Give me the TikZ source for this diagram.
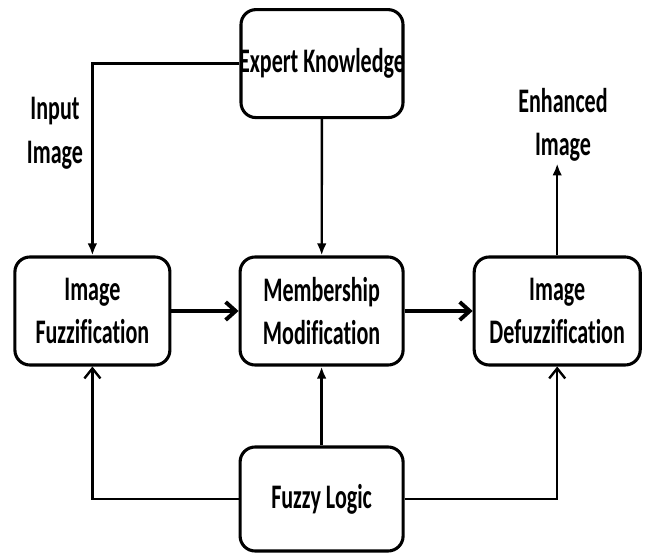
\documentclass[tikz,border=0pt]{standalone}
\usepackage{fontspec}
\setmainfont{Carlito}[FakeStretch=0.64, Ligatures=NoCommon]
\usetikzlibrary{positioning,arrows.meta}

\tikzset{
  block/.style={draw, rounded corners=0.375cm, line width=2.2pt, minimum height=2.7cm,
    align=center, font=\fontsize{24.5}{31}\selectfont\bfseries},
  txt/.style={align=center, inner sep=1pt, font=\fontsize{24.5}{31}\selectfont\bfseries},
  link/.style={line width=1.7pt},
  flow/.style={line width=2.8pt, -{Straight Barb[length=2.5mm,width=4.5mm]}},
  tip/.style={-{Latex[length=3mm,width=2.4mm]}},
  barb/.style={-{Straight Barb[length=2.5mm,width=4mm]}}
}

\begin{document}
\begin{tikzpicture}
    \useasboundingbox (0,0) rectangle (16.3,13.85);

    \node[block, minimum width=4.05cm] (expert) at (8.05,12.26) {\makebox[0pt]{Expert Knowledge}};

    \node[block, minimum width=3.875cm] (fuzz) at (2.31,6.075) {Image\\Fuzzification};
    \node[block, minimum width=4.075cm] (memb) at (8.04,6.075) {Membership\\Modification};
    \node[block, minimum width=4.15cm] (defuzz) at (13.93,6.075) {Image\\Defuzzification};

    \node[block, minimum width=4.075cm, minimum height=2.6cm] (logic) at (8.04,1.375) {Fuzzy Logic};

    \node[txt] (input) at (1.375,10.525) {Input\\Image};
    \node[txt] (enhanced) at (14.075,10.725) {Enhanced\\Image};

    % top inputs
    \draw[link, tip] (expert.west) -| (fuzz.north);
    \draw[link, tip] (expert) -- (memb);

    % main chain
    \draw[flow] (fuzz) -- (memb);
    \draw[flow] (memb) -- (defuzz);
    \draw[link, tip] (defuzz.north) -- (defuzz.north |- enhanced.south);

    % fuzzy logic feeds
    \draw[link, barb] (logic.west) -| (fuzz.south);
    \draw[link, tip] (logic) -- (memb);
    \draw[link, barb] (logic.east) -| (defuzz.south);
\end{tikzpicture}
\end{document}
